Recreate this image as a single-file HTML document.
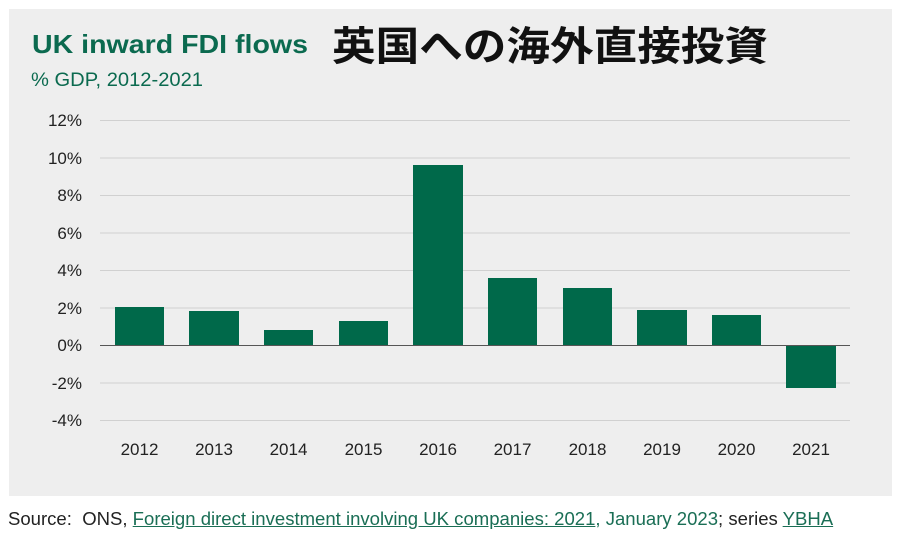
<!DOCTYPE html>
<html><head><meta charset="utf-8"><style>
body{margin:0;width:900px;height:539px;background:#fff;position:relative;overflow:hidden;font-family:"Liberation Sans","Noto Sans CJK JP",sans-serif}
.box{position:absolute;left:9px;top:9px;width:883px;height:487px;background:#eeeeee}
.src{position:absolute;left:8px;top:509px;font-size:18px;color:#222;white-space:nowrap;transform-origin:0 0;transform:scaleX(1.03)}
.src a{color:#1a6e55;text-decoration:underline}
</style></head><body>
<div class="box"></div>
<svg width="900" height="539" style="position:absolute;left:0;top:0" font-family="Liberation Sans, Noto Sans CJK JP, sans-serif">
<text x="32" y="53" font-size="26" font-weight="bold" fill="#0b6a4f" textLength="276" lengthAdjust="spacingAndGlyphs">UK inward FDI flows</text>
<text x="332" y="60" font-size="40" font-weight="bold" fill="#111" font-family="Noto Sans CJK JP, sans-serif" textLength="436" lengthAdjust="spacingAndGlyphs">英国への海外直接投資</text>
<text x="31" y="86" font-size="19" fill="#0b6a4f" textLength="172" lengthAdjust="spacingAndGlyphs">% GDP, 2012-2021</text>
<g stroke="#d0d0d0" stroke-width="1">
<line x1="100" x2="850" y1="120.5" y2="120.5"/><line x1="100" x2="850" y1="158" y2="158"/><line x1="100" x2="850" y1="195.5" y2="195.5"/><line x1="100" x2="850" y1="233" y2="233"/><line x1="100" x2="850" y1="270.5" y2="270.5"/><line x1="100" x2="850" y1="308" y2="308"/><line x1="100" x2="850" y1="383" y2="383"/><line x1="100" x2="850" y1="420.5" y2="420.5"/>
</g>
<g font-size="17" fill="#222" text-anchor="end">
<text x="82" y="126">12%</text><text x="82" y="164">10%</text><text x="82" y="201">8%</text><text x="82" y="239">6%</text><text x="82" y="276">4%</text><text x="82" y="314">2%</text><text x="82" y="351">0%</text><text x="82" y="389">-2%</text><text x="82" y="426">-4%</text>
</g>
<g fill="#00694a">
<rect x="115" y="307" width="49" height="38"/>
<rect x="189" y="311" width="50" height="34"/>
<rect x="264" y="330" width="49" height="15"/>
<rect x="339" y="321" width="49" height="24"/>
<rect x="413" y="165" width="50" height="180"/>
<rect x="488" y="278" width="49" height="67"/>
<rect x="563" y="288" width="49" height="57"/>
<rect x="637" y="310" width="50" height="35"/>
<rect x="712" y="315" width="49" height="30"/>
<rect x="786" y="345" width="50" height="43"/>
</g>
<line x1="100" x2="850" y1="345.5" y2="345.5" stroke="#555" stroke-width="1"/>
<g font-size="17" fill="#222" text-anchor="middle">
<text x="139.5" y="455">2012</text><text x="214" y="455">2013</text><text x="288.5" y="455">2014</text><text x="363.5" y="455">2015</text><text x="438" y="455">2016</text><text x="512.5" y="455">2017</text><text x="587.5" y="455">2018</text><text x="662" y="455">2019</text><text x="736.5" y="455">2020</text><text x="811" y="455">2021</text>
</g>
</svg>
<div class="src">Source:&nbsp; ONS, <a>Foreign direct investment involving UK companies: 2021</a><span style="color:#1a6e55">, January 2023</span>; series <a>YBHA</a></div>
</body></html>
